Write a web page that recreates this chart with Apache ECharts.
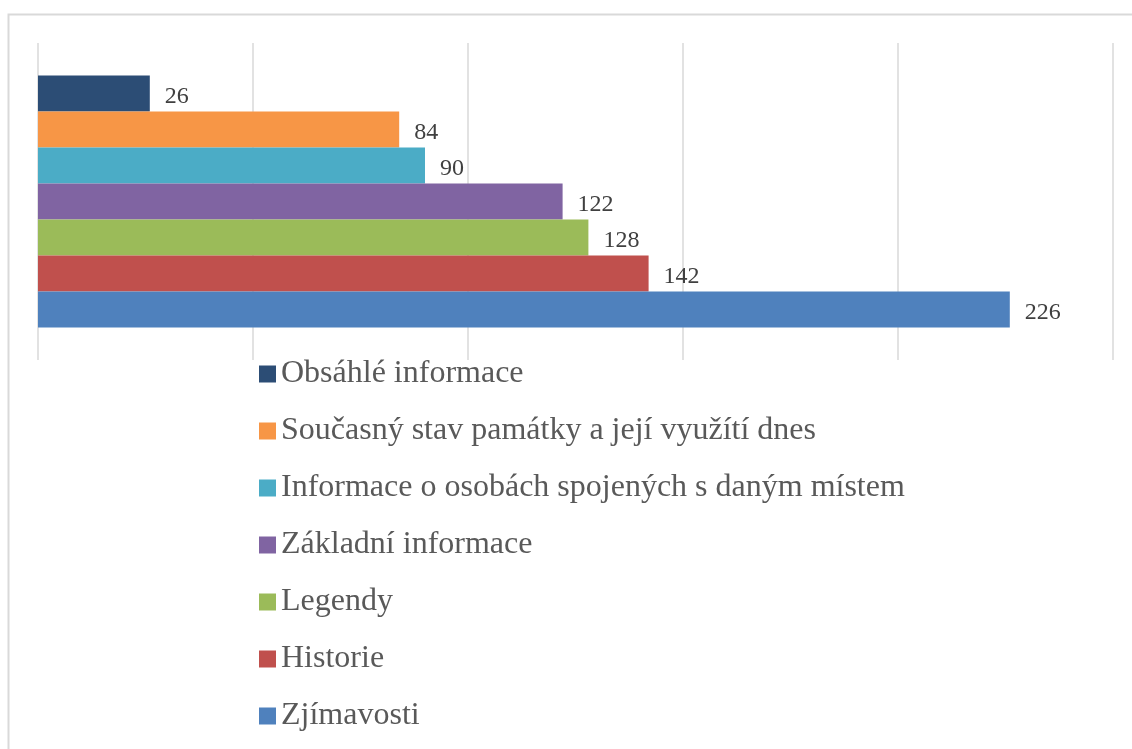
<!DOCTYPE html>
<html>
<head>
<meta charset="utf-8">
<title>Zájem o informace</title>
<script src="https://cdn.jsdelivr.net/npm/echarts@6/dist/echarts.min.js"></script>
<style>
  html, body { margin: 0; padding: 0; background: #fff; }
  #chart { width: 1132px; height: 749px; }
</style>
</head>
<body>
<div id="chart"></div>
<script>
// názvy položek (pořadí shora dolů, jako v legendě)
const names = [
  'Obsáhlé informace',
  'Současný stav památky a její využítí dnes',
  'Informace o osobách spojených s daným místem',
  'Základní informace',
  'Legendy',
  'Historie',
  'Zjímavosti'
];
// počty odpovědí
const values = [26, 84, 90, 122, 128, 142, 226];
// barvy pruhů
const colors = ['#2c4d75', '#f79646', '#4bacc6', '#8064a2', '#9bbb59', '#c0504d', '#4f81bd'];
// hodnotová osa
const axisMin = 0;
const axisMax = 250;
const axisStep = 50;

const FONT = '"Liberation Serif", "Times New Roman", serif';

const chart = echarts.init(document.getElementById('chart'));

const series = names.map((name, i) => ({
  name: name,
  type: 'bar',
  data: [values[i]],
  barWidth: 36,
  barGap: '0%',
  itemStyle: { color: colors[i] },
  label: {
    show: true,
    position: 'right',
    distance: 15,
    offset: [0, 3],
    color: '#404040',
    fontFamily: FONT,
    fontSize: 24
  }
}));

chart.setOption({
  animation: false,
  backgroundColor: '#fff',
  graphic: [{
    type: 'rect',
    shape: { x: 8.5, y: 14.5, width: 1300, height: 900 },
    style: { fill: 'none', stroke: '#d9d9d9', lineWidth: 2 },
    silent: true
  }],
  grid: { left: 38, right: 19, top: 43, height: 317 },
  xAxis: {
    type: 'value',
    min: axisMin,
    max: axisMax,
    interval: axisStep,
    axisLabel: { show: false },
    axisLine: { show: false },
    axisTick: { show: false },
    splitLine: { show: true, lineStyle: { color: '#d9d9d9', width: 1.5 } }
  },
  yAxis: {
    type: 'category',
    data: [''],
    axisLabel: { show: false },
    axisLine: { show: false },
    axisTick: { show: false }
  },
  legend: {
    orient: 'vertical',
    left: 254,
    top: 353,
    data: names,
    icon: 'rect',
    itemWidth: 17,
    itemHeight: 17,
    itemGap: 25,
    textStyle: {
      color: '#595959',
      fontFamily: FONT,
      fontSize: 32,
      lineHeight: 30
    }
  },
  series: series
});
</script>
</body>
</html>
